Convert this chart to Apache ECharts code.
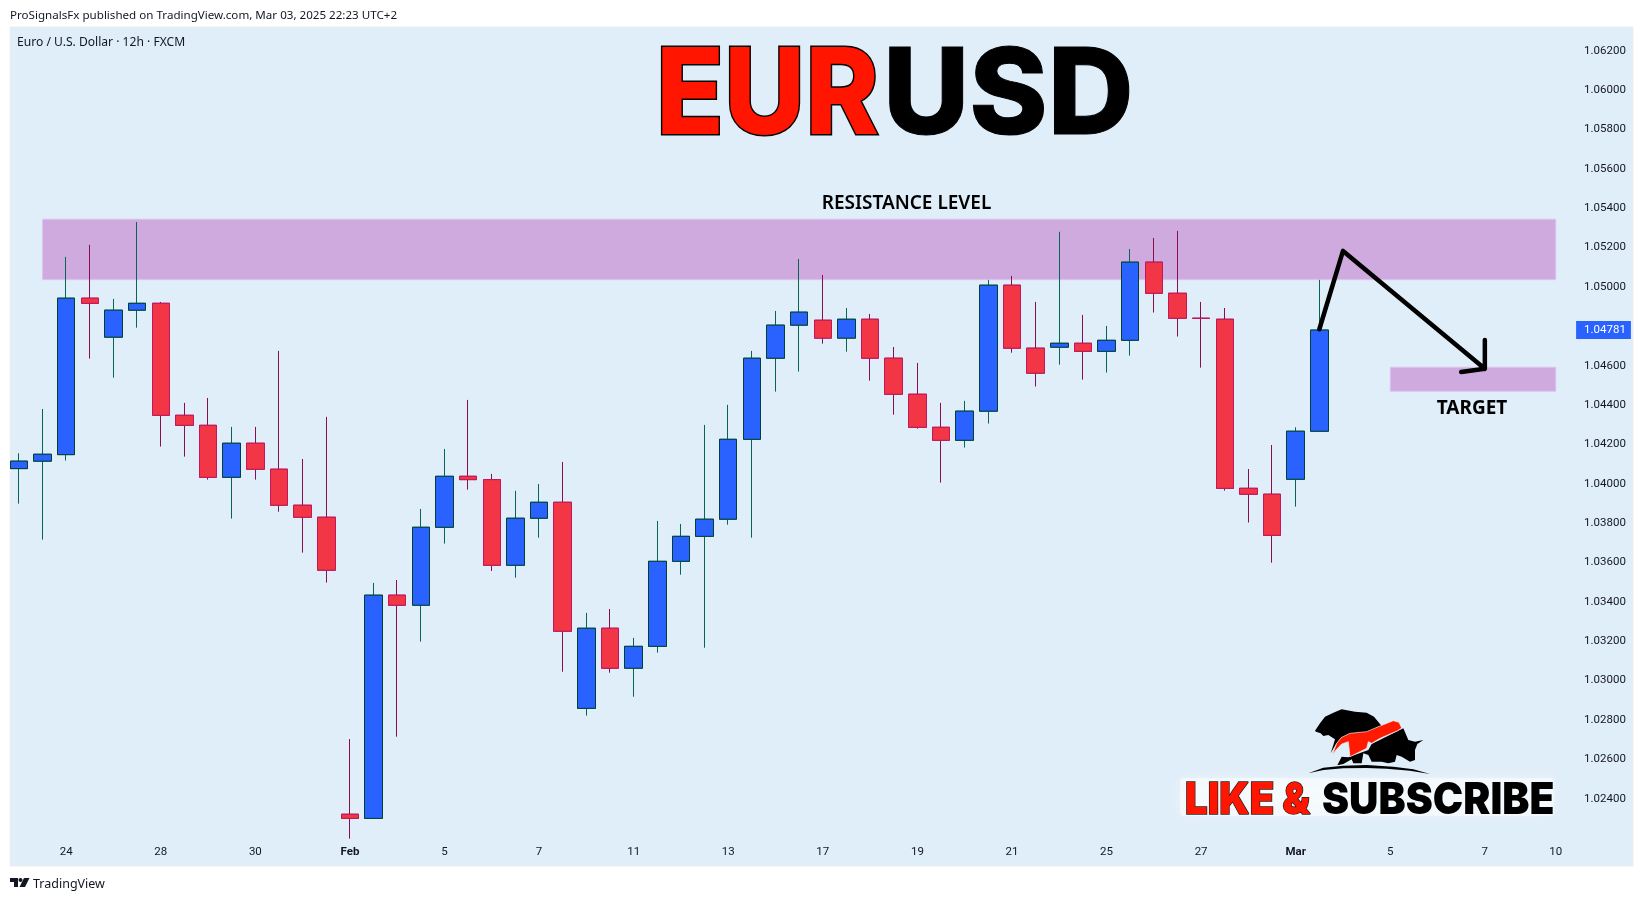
<!DOCTYPE html>
<html>
<head>
<meta charset="utf-8">
<style>html,body{margin:0;padding:0;background:#fff}#c{width:1643px;height:901px}</style>
<script src="https://cdn.jsdelivr.net/npm/echarts@6/dist/echarts.min.js"></script>
</head>
<body>
<div id="c"></div>
<script>
var opens = [1.04077,1.04115,1.04148,1.04943,1.04745,1.04882,1.04917,1.04348,1.04297,1.04033,1.04206,1.04074,1.03891,1.03830,1.02321,1.02300,1.03434,1.03383,1.03779,1.04038,1.04021,1.03586,1.03825,1.03906,1.02859,1.03266,1.03063,1.03174,1.03606,1.03733,1.03820,1.04226,1.04638,1.04806,1.04831,1.04740,1.04836,1.04638,1.04455,1.04287,1.04221,1.04369,1.05009,1.04689,1.04694,1.04714,1.04673,1.04729,1.05126,1.04968,1.04841,1.04836,1.03977,1.03947,1.04023,1.04267];
var closes = [1.04115,1.04150,1.04943,1.04917,1.04882,1.04917,1.04348,1.04297,1.04033,1.04206,1.04074,1.03891,1.03830,1.03561,1.02300,1.03434,1.03383,1.03779,1.04038,1.04021,1.03586,1.03825,1.03906,1.03251,1.03266,1.03063,1.03174,1.03606,1.03733,1.03820,1.04226,1.04638,1.04806,1.04872,1.04740,1.04836,1.04638,1.04455,1.04287,1.04221,1.04369,1.05009,1.04689,1.04562,1.04714,1.04673,1.04729,1.05126,1.04968,1.04841,1.04840,1.03977,1.03947,1.03738,1.04267,1.04781];
var highs = [1.04155,1.04380,1.05153,1.05214,1.04939,1.05330,1.04924,1.04411,1.04436,1.04289,1.04289,1.04675,1.04126,1.04340,1.02703,1.03496,1.03511,1.03872,1.04177,1.04426,1.04050,1.03964,1.03999,1.04111,1.03344,1.03364,1.03217,1.03811,1.03796,1.04299,1.04401,1.04675,1.04878,1.05142,1.05061,1.04893,1.04863,1.04695,1.04614,1.04411,1.04421,1.05036,1.05056,1.04924,1.05280,1.04858,1.04802,1.05193,1.05249,1.05285,1.04924,1.04893,1.04075,1.04197,1.04287,1.05036];
var lows = [1.03899,1.03716,1.04118,1.04636,1.04539,1.04793,1.04189,1.04138,1.04021,1.03823,1.04021,1.03858,1.03650,1.03498,1.02197,1.02300,1.02715,1.03198,1.03696,1.03970,1.03557,1.03523,1.03726,1.03045,1.02822,1.03040,1.02918,1.03142,1.03538,1.03167,1.03792,1.03726,1.04468,1.04570,1.04712,1.04671,1.04524,1.04351,1.04280,1.04006,1.04184,1.04306,1.04666,1.04494,1.04605,1.04529,1.04565,1.04651,1.04870,1.04748,1.04590,1.03965,1.03803,1.03599,1.03884,1.04267];
var slotCount = 66;
var tickSlots = [2,6,10,14,18,22,26,30,34,38,42,46,50,54,58,62,65];
var tickLabels = ['24','28','30','Feb','5','7','11','13','17','19','21','25','27','Mar','5','7','10'];
var priceTicks = [1.024,1.026,1.028,1.03,1.032,1.034,1.036,1.038,1.04,1.042,1.044,1.046,1.048,1.05,1.052,1.054,1.056,1.058,1.06,1.062];
var lastPrice = 1.04781;
var resistanceZone = [1, 65, 1.05344, 1.05037];
var targetZone = [58, 65, 1.04592, 1.04470];
var arrowX = [54.96, 55.95, 62.1, 61.95, 62.1, 60.8];
var arrowY = [1.04785, 1.05183, 1.04584, 1.04731, 1.04584, 1.04568];

var categories = [];
for (var s = 0; s < slotCount; s++) {
  var k = tickSlots.indexOf(s);
  categories.push(k >= 0 ? tickLabels[k] : '');
}
var fullData = opens.map(function (o, i) { return [o, closes[i], lows[i], highs[i]]; });
var bodyData = opens.map(function (o, i) {
  return [o, closes[i], Math.min(o, closes[i]), Math.max(o, closes[i])];
});
var arrowData = arrowX.map(function (x, i) { return [x, arrowY[i]]; });

var AXIS_FONT = 'Roboto, "Noto Sans", sans-serif';
var PLOT_LEFT = 7.1, PLOT_RIGHT = 1643 - 1567.6;

var chart = echarts.init(document.getElementById('c'), null, { renderer: 'canvas' });

function poly(points, fill) {
  return { type: 'polygon', z: 60, shape: { points: points }, style: { fill: fill } };
}

chart.setOption({
  animation: false,
  backgroundColor: '#ffffff',
  grid: { left: PLOT_LEFT, right: PLOT_RIGHT, top: 11.4, bottom: 901 - 877.4, containLabel: false },
  xAxis: {
    type: 'category',
    data: categories,
    boundaryGap: true,
    axisLine: { show: false },
    axisTick: { show: false },
    splitLine: { show: false },
    axisLabel: {
      show: true, interval: 0, inside: true, margin: 19,
      fontFamily: AXIS_FONT, fontSize: 11.5, color: '#131722',
      formatter: function (v) { return (v === 'Feb' || v === 'Mar') ? '{b|' + v + '}' : v; },
      rich: { b: { fontWeight: 700, fontFamily: AXIS_FONT, fontSize: 11.5, color: '#131722' } }
    }
  },
  yAxis: [{
    type: 'value', position: 'right', min: 1.02, max: 1.064, scale: true, z: 1,
    axisLine: { show: false }, axisTick: { show: false }, splitLine: { show: false },
    axisLabel: {
      customValues: priceTicks, margin: 16.5, fontFamily: AXIS_FONT, fontSize: 11.5, color: '#131722',
      formatter: function (v) { return v.toFixed(5); }
    }
  }, {
    type: 'value', position: 'right', min: 1.02, max: 1.064, scale: true, z: 5,
    axisLine: { show: false }, axisTick: { show: false }, splitLine: { show: false },
    axisLabel: {
      customValues: [lastPrice], margin: 8.5, fontFamily: AXIS_FONT, fontSize: 11.5, color: '#ffffff',
      backgroundColor: '#2962ff', padding: [3, 5, 3, 8],
      formatter: function (v) { return v.toFixed(5); }
    }
  }],
  series: [{
    name: 'zones', type: 'custom', z: 1, silent: true, clip: false, coordinateSystem: 'cartesian2d',
    data: [resistanceZone, targetZone],
    encode: { x: [0, 1], y: [2, 3] },
    renderItem: function (params, api) {
      var a = api.coord([api.value(0), api.value(2)]);
      var b = api.coord([api.value(1), api.value(3)]);
      return { type: 'rect', shape: { x: a[0], y: a[1], width: b[0] - a[0], height: b[1] - a[1] },
        style: { fill: '#ceaadf', stroke: '#dfc3ee', lineWidth: 1 } };
    }
  }, {
    name: 'wicks', type: 'candlestick', z: 2, barWidth: 18, clip: false, data: fullData,
    itemStyle: { color: '#2962ff', color0: '#f23645', borderColor: '#056656', borderColor0: '#880e4f', borderWidth: 1 }
  }, {
    name: 'bodies', type: 'candlestick', z: 3, barWidth: 18, clip: false, data: bodyData,
    itemStyle: { color: '#2962ff', color0: '#f23645', borderColor: '#004035', borderColor0: '#c2185b', borderWidth: 1 }
  }, {
    name: 'arrow', type: 'line', z: 6, data: arrowData, symbol: 'none', clip: false, silent: true,
    lineStyle: { color: '#000', width: 4.5, cap: 'round', join: 'round' }
  }],
  graphic: [
    { type: 'rect', z: -20, silent: true, shape: { x: 10, y: 27, width: 1623, height: 839 },
      style: { fill: '#e0eef9', stroke: '#eeeeee', lineWidth: 1 } },
    { type: 'rect', z: 50, silent: true, shape: { x: 0, y: 27, width: 9.5, height: 839 }, style: { fill: '#ffffff' } },

    { type: 'text', z: 60, x: 10, y: 15.5, style: { text: 'ProSignalsFx published on TradingView.com, Mar 03, 2025 22:23 UTC+2', font: '11.6px "Noto Sans"', fill: '#131722', verticalAlign: 'middle' } },
    { type: 'text', z: 60, x: 17, y: 42.5, style: { text: 'Euro / U.S. Dollar · 12h · FXCM', font: '12.1px "Noto Sans"', fill: '#131722', verticalAlign: 'middle' } },
    { type: 'text', z: 60, x: 33, y: 884, style: { text: 'TradingView', font: '12.5px "Noto Sans"', fill: '#131722', verticalAlign: 'middle' } },
    { type: 'group', x: 10, y: 878, children: [
      { type: 'polygon', z: 60, shape: { points: [[0,0],[8,0],[8,9],[4,9],[4,4],[0,4]] }, style: { fill: '#131722' } },
      { type: 'circle', z: 60, shape: { cx: 10.5, cy: 2, r: 2 }, style: { fill: '#131722' } },
      { type: 'polygon', z: 60, shape: { points: [[14,0],[19.5,0],[15,9],[9.5,9]] }, style: { fill: '#131722' } }
    ] },

    { type: 'text', z: 60, x: 906.5, y: 203.5, style: { text: 'RESISTANCE LEVEL', font: '600 19px "Noto Sans"', fill: '#000', align: 'center', verticalAlign: 'middle' } },
    { type: 'text', z: 60, x: 1472, y: 409, style: { text: 'TARGET', font: '700 19px "Noto Sans"', fill: '#000', align: 'center', verticalAlign: 'middle' } },

    { type: 'text', z: 60, x: 656, y: 98, scaleX: 0.93, style: { text: 'EUR', font: '800 120px Inter', fill: '#ff1500', stroke: '#000', lineWidth: 3, verticalAlign: 'middle', shadowBlur: 8, shadowColor: '#ffffff' } },
    { type: 'text', z: 60, x: 883, y: 98, scaleX: 0.99, style: { text: 'USD', font: '800 120px Inter', fill: '#000', stroke: '#000', lineWidth: 1, verticalAlign: 'middle', shadowBlur: 8, shadowColor: '#ffffff' } },

    { type: 'rect', z: 30, silent: true, shape: { x: 1180, y: 778, width: 374, height: 38, r: 4 }, style: { fill: 'rgba(255,255,255,0.5)', shadowBlur: 14, shadowColor: 'rgba(255,255,255,0.7)' } },
    { type: 'text', z: 60, x: 1185, y: 801, scaleX: 0.91, style: { text: 'LIKE &', font: '900 44px Inter', fill: '#ff1500', stroke: '#222', lineWidth: 1.5, verticalAlign: 'middle' } },
    { type: 'text', z: 60, x: 1322, y: 801, scaleX: 0.925, style: { text: 'SUBSCRIBE', font: '900 44px Inter', fill: '#000', verticalAlign: 'middle' } },
    { type: 'group', x: 1300, y: 700, scaleX: 1 / 3, scaleY: 1 / 3, children: [
      poly([[45,92],[60,70],[75,50],[100,38],[125,28],[165,35],[200,38],[222,50],[245,78],[215,105],[150,110],[125,112],[108,132],[92,160],[100,135],[105,118],[85,105],[70,108],[62,100],[48,95]], '#000'),
      poly([[112,196],[125,170],[145,172],[205,150],[215,132],[295,92],[310,85],[325,120],[345,125],[370,120],[352,132],[345,150],[345,180],[330,185],[305,170],[290,165],[285,185],[265,190],[245,185],[215,185],[205,165],[190,160],[185,190],[160,190],[155,178],[130,192]], '#000'),
      poly([[25,220],[70,203],[130,197],[200,195],[280,200],[340,208],[390,222],[330,212],[260,206],[200,204],[130,205],[70,210]], '#000'),
      { type: 'polygon', z: 61, shape: { points: [[97,165],[110,130],[125,112],[150,100],[200,95],[240,78],[280,62],[297,67],[305,84],[293,92],[240,115],[215,130],[205,125],[200,145],[150,170],[145,125],[125,132],[108,150]] }, style: { fill: '#ff1a00', stroke: '#eef3f8', lineWidth: 2 } }
    ] }
  ]
});
</script>
</body>
</html>
